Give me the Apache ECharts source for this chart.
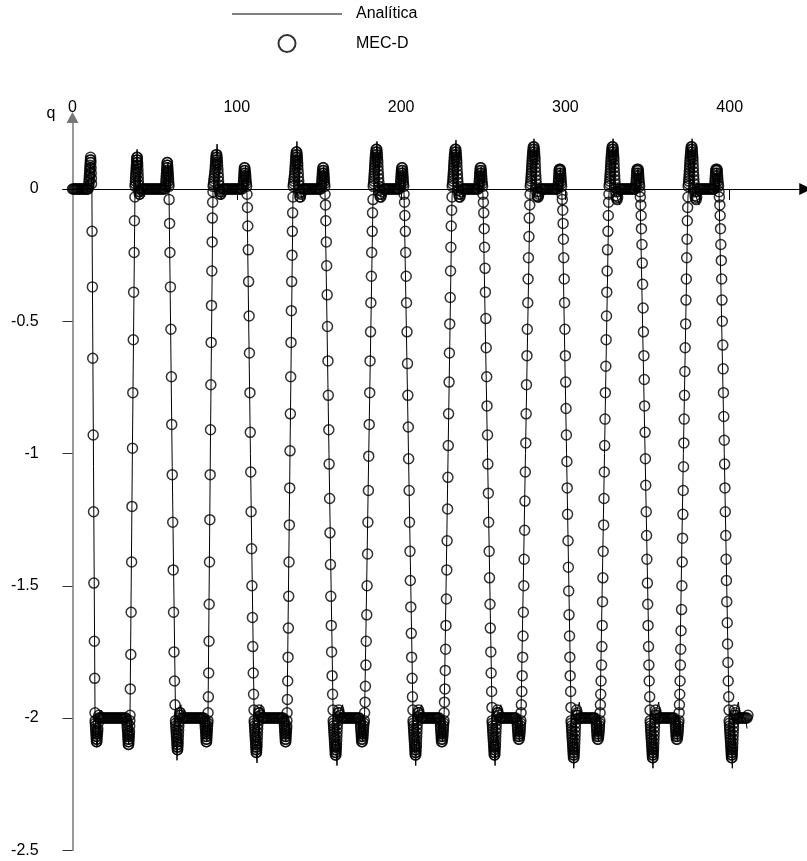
<!DOCTYPE html>
<html><head><meta charset="utf-8">
<script src="https://cdn.jsdelivr.net/npm/echarts@6/dist/echarts.min.js"></script>
<style>html,body{margin:0;padding:0;background:#fff}#c{width:807px;height:861px}</style>
</head><body><div id="c"></div>
<script>
const seriesNames=['Analítica','MEC-D'];
const xTickValues=[0,100,200,300,400];
const yTickValues=[-2.5,-2,-1.5,-1,-0.5,0];

// Analítica (x, q)
const anaA=[[0,0],[9.5,0],[10.8,0.10],[11.8,0.0],[12.8,-1.05],[13.7,-1.97],[14.3,-2.07],[14.9,-2.11],[15.5,-2.07],[16.4,-1.98],[17.4,-1.97],[18.4,-2],
[32.8,-2],[34.2,-2.1],[35.0,-1.99],[36.6,-0.9],[38.0,-0.03],[38.6,0.07],[39.3,0.15],[39.9,0.07],[40.8,-0.02],[41.6,-0.03],[42.6,0],
[56.6,0],[58.1,0.10],[58.8,-0.04],[60.7,-1.05],[62.7,-1.99],[63.2,-2.09],[63.6,-2.16],[64.1,-2.08],[65.2,-1.97],[66.0,-1.95],[67.0,-2],
[80.6,-2],[81.8,-2.09],[82.5,-1.98],[84.0,-0.93],[85.5,-0.01],[87.2,0.10],[88.0,0.17],[88.7,0.08],[89.7,-0.02],[90.6,-0.04],[91.6,0],
[103.8,0],[105.3,0.085],[106.2,-0.02],[108.3,-1.0],[110.5,-1.97],[111.5,-2.10],[112.3,-2.17],[113.0,-2.08],[114.0,-1.97],[115.0,-1.95],[116.0,-2],
[128.8,-2],[129.8,-2.09],[130.6,-1.98],[132.4,-0.99],[134.2,-0.03],[135.8,0.10],[136.6,0.18],[137.4,0.08],[138.6,-0.01],[140.0,-0.045],[141.0,0],
[151.5,0],[152.9,0.085],[153.7,-0.02],[156.1,-1.0],[158.6,-1.97],[160.2,-2.11],[161.0,-2.18],[161.7,-2.08],[162.6,-1.98],[164.4,-1.95],[165.4,-2],
[175.2,-2],[176.6,-2.09],[177.8,-1.98],[180.3,-1.0],[182.9,-0.04],[184.5,0.10],[185.3,0.18],[186.1,0.08],[187.2,-0.02],[188.8,-0.05],[189.8,0]];
const anaB=[[199.6,0],[201.0,0.085],[201.8,-0.02],[204.5,-1.0],[207.2,-1.97],[208.2,-2.10],[208.9,-2.18],[209.6,-2.08],[210.6,-1.98],[212.5,-1.95],[213.5,-2],
[223.8,-2],[225.2,-2.09],[226.2,-1.98],[228.6,-1.0],[231.0,-0.03],[232.6,0.10],[233.4,0.185],[234.2,0.08],[235.3,-0.02],[236.9,-0.05],[237.9,0],
[247.4,0],[248.7,0.085],[249.8,-0.02],[252.6,-1.0],[255.3,-1.96],[256.4,-2.10],[257.2,-2.18],[257.9,-2.08],[258.8,-1.98],[260.7,-1.95],[261.7,-2],
[270.6,-2],[272.0,-2.09],[273.0,-1.98],[275.7,-1.0],[278.5,-0.02],[280.1,0.10],[280.9,0.19],[281.7,0.08],[282.8,-0.02],[284.4,-0.05],[285.4,0],
[295.6,0],[296.9,0.08],[297.9,-0.02],[300.7,-1.0],[303.4,-1.96],[304.4,-2.10],[305.1,-2.19],[305.8,-2.08],[306.7,-1.98],[308.5,-1.94],[309.5,-2],
[318.7,-2],[320.1,-2.09],[321.1,-1.98],[323.8,-1.0],[326.5,-0.02],[328.2,0.10],[329.0,0.19],[329.8,0.08],[330.9,-0.02],[333.0,-0.06],[334.2,0],
[342.8,0],[344.2,0.08],[345.4,-0.01],[348.5,-1.0],[351.5,-1.97],[352.5,-2.10],[353.3,-2.19],[354.0,-2.08],[355.0,-1.98],[356.8,-1.94],[357.8,-2],
[366.8,-2],[368.2,-2.09],[369.2,-1.98],[371.8,-1.0],[374.6,-0.03],[376.3,0.10],[377.1,0.19],[377.9,0.08],[379.0,-0.02],[381.3,-0.06],[382.3,0],
[390.8,0],[392.2,0.08],[393.5,-0.01],[396.7,-1.0],[399.6,-1.97],[400.9,-2.11],[401.6,-2.19],[402.3,-2.08],[403.4,-1.98],[405.3,-1.94],[406.3,-2],[409.5,-2],[410.6,-2.04]];

// MEC-D (x, q), one array per transition (with its plateau)
const mecD1=[[0,0],[0.6,0],[1.2,0],[1.8,0],[2.4,0],[3.0,0],[3.6,0],[4.2,0],[4.8,0],[5.4,0],[6.0,0],[6.6,0],[7.2,0],[7.8,0],[8.4,0],[9.0,0],[9.5,0],
[9.9,.01],[10.0,.02],[10.1,.03],[10.2,.04],[10.3,.05],[10.4,.06],[10.5,.07],[10.6,.08],[10.7,.09],[10.8,.10],[10.9,.11],[11.0,.12],[11.1,.11],[11.2,.10],[11.3,.08],[11.4,.06],[11.5,.04],[11.6,.02],
[11.9,-0.16],[12.1,-0.37],[12.3,-0.64],[12.6,-0.93],[12.8,-1.22],[13.0,-1.49],[13.3,-1.71],[13.5,-1.85],[13.7,-1.98],
[13.8,-2.01],[13.9,-2.02],[14.0,-2.03],[14.1,-2.04],[14.2,-2.05],[14.3,-2.06],[14.4,-2.07],[14.5,-2.08],[14.6,-2.09],[14.8,-2.09],[14.9,-2.08],[15.0,-2.07],[15.2,-2.06],[15.3,-2.05],[15.4,-2.04],[15.6,-2.02],[15.8,-2.0],[16.0,-1.99],
[16.6,-2],[17.3,-2],[18.0,-2],[18.7,-2],[19.4,-2],[20.1,-2],[20.8,-2],[21.5,-2],[22.2,-2],[22.9,-2],[23.6,-2],[24.3,-2],[25.0,-2],[25.7,-2],[26.4,-2],[27.1,-2],[27.8,-2],[28.5,-2],[29.2,-2],[29.9,-2],[30.6,-2],[31.3,-2],[32.0,-2],[32.6,-2]];
const mecR1=[[33.1,-2.01],[33.2,-2.02],[33.3,-2.03],[33.4,-2.04],[33.5,-2.05],[33.6,-2.06],[33.7,-2.07],[33.8,-2.08],[33.9,-2.09],[34.0,-2.10],[34.2,-2.10],[34.3,-2.09],[34.4,-2.08],[34.5,-2.07],[34.6,-2.06],[34.7,-2.05],[34.8,-2.03],[34.9,-2.01],
[35.0,-1.99],[35.2,-1.89],[35.5,-1.76],[35.7,-1.60],[36.0,-1.41],[36.2,-1.20],[36.5,-0.98],[36.7,-0.77],[37.0,-0.57],[37.2,-0.39],[37.5,-0.24],[37.7,-0.12],[38.0,-0.03],
[38.1,.01],[38.2,.02],[38.3,.03],[38.4,.04],[38.5,.05],[38.6,.06],[38.7,.07],[38.8,.08],[38.9,.09],[39.0,.10],[39.1,.11],[39.2,.12],[39.4,.12],[39.5,.11],[39.6,.10],[39.7,.09],[39.8,.075],[39.9,.06],[40.0,.045],[40.1,.03],[40.2,.015],[40.3,0],[40.5,-.01],[40.7,-.02],[40.9,-.02],[41.1,-.01],
[41.7,0],[42.4,0],[43.1,0],[43.8,0],[44.5,0],[45.2,0],[45.9,0],[46.6,0],[47.3,0],[48.0,0],[48.7,0],[49.4,0],[50.1,0],[50.8,0],[51.5,0],[52.2,0],[52.9,0],[53.6,0],[54.3,0],[55.0,0],[55.7,0],[56.3,0]];
const mecD2=[[56.7,.01],[56.8,.02],[56.9,.03],[57.0,.04],[57.1,.05],[57.2,.06],[57.3,.07],[57.4,.08],[57.5,.09],[57.6,.10],[57.8,.10],[57.9,.09],[58.0,.08],[58.1,.07],[58.2,.06],[58.3,.05],[58.4,.04],[58.5,.03],[58.6,.02],[58.7,.01],
[58.8,-0.04],[59.1,-0.13],[59.3,-0.24],[59.6,-0.37],[59.9,-0.53],[60.2,-0.71],[60.4,-0.89],[60.7,-1.08],[61.0,-1.26],[61.3,-1.44],[61.5,-1.60],[61.8,-1.75],[62.1,-1.86],[62.4,-1.95],[62.7,-2.01],
[62.8,-2.02],[62.9,-2.03],[63.0,-2.04],[63.1,-2.05],[63.2,-2.06],[63.3,-2.07],[63.4,-2.08],[63.5,-2.09],[63.6,-2.10],[63.7,-2.11],[63.8,-2.12],[64.0,-2.12],[64.1,-2.11],[64.2,-2.10],[64.3,-2.09],[64.4,-2.075],[64.5,-2.06],[64.6,-2.045],[64.7,-2.03],[64.8,-2.015],[64.9,-2.0],[65.1,-1.99],[65.3,-1.98],[65.6,-1.98],[65.9,-1.99],
[66.6,-2],[67.3,-2],[68.0,-2],[68.7,-2],[69.4,-2],[70.1,-2],[70.8,-2],[71.5,-2],[72.2,-2],[72.9,-2],[73.6,-2],[74.3,-2],[75.0,-2],[75.7,-2],[76.4,-2],[77.1,-2],[77.8,-2],[78.5,-2],[79.2,-2],[79.9,-2]];
const mecR2=[[80.6,-2.01],[80.7,-2.02],[80.8,-2.03],[80.9,-2.04],[81.0,-2.05],[81.1,-2.06],[81.2,-2.07],[81.3,-2.08],[81.4,-2.09],[81.6,-2.09],[81.7,-2.08],[81.8,-2.07],[81.9,-2.06],[82.0,-2.05],[82.1,-2.04],[82.2,-2.03],[82.3,-2.02],[82.4,-2.01],
[82.5,-1.98],[82.7,-1.92],[82.9,-1.83],[83.1,-1.71],[83.2,-1.57],[83.4,-1.41],[83.6,-1.25],[83.8,-1.08],[84.0,-0.91],[84.2,-0.74],[84.4,-0.58],[84.6,-0.44],[84.8,-0.31],[85.0,-0.20],[85.1,-0.11],[85.3,-0.05],[85.5,-0.01],
[85.6,.01],[85.8,.02],[86.0,.03],[86.2,.04],[86.4,.05],[86.6,.06],[86.8,.07],[86.9,.08],[87.0,.09],[87.1,.10],[87.2,.11],[87.3,.12],[87.5,.13],[87.8,.13],[88.0,.12],[88.1,.11],[88.2,.10],[88.3,.09],[88.5,.075],[88.6,.06],[88.8,.045],[88.9,.03],[89.1,.015],[89.3,0],[89.6,-.01],[89.9,-.02],[90.3,-.02],[90.7,-.01],
[91.3,0],[92.0,0],[92.7,0],[93.4,0],[94.1,0],[94.8,0],[95.5,0],[96.2,0],[96.9,0],[97.6,0],[98.3,0],[99.0,0],[99.7,0],[100.4,0],[101.1,0],[101.8,0],[102.5,0],[103.2,0]];
const mecD3=[[103.9,.01],[104.0,.02],[104.1,.03],[104.2,.04],[104.3,.05],[104.4,.06],[104.5,.07],[104.6,.08],[104.9,.08],[105.1,.07],[105.3,.06],[105.4,.05],[105.5,.04],[105.6,.03],[105.8,.02],[106.0,.01],
[106.2,-0.02],[106.5,-0.07],[106.7,-0.14],[107.0,-0.23],[107.2,-0.35],[107.5,-0.48],[107.7,-0.62],[108.0,-0.77],[108.2,-0.92],[108.5,-1.07],[108.7,-1.22],[109.0,-1.36],[109.2,-1.50],[109.5,-1.62],[109.7,-1.73],[110.0,-1.83],[110.2,-1.91],[110.5,-1.97],
[110.6,-2.01],[110.7,-2.02],[110.8,-2.03],[110.9,-2.04],[111.0,-2.05],[111.1,-2.06],[111.2,-2.07],[111.3,-2.08],[111.4,-2.09],[111.5,-2.10],[111.6,-2.11],[111.7,-2.12],[111.8,-2.13],[112.0,-2.13],[112.1,-2.12],[112.2,-2.11],[112.3,-2.10],[112.4,-2.085],[112.5,-2.07],[112.6,-2.055],[112.7,-2.04],[112.8,-2.025],[112.9,-2.01],[113.1,-1.995],[113.3,-1.98],[113.6,-1.97],[113.9,-1.98],[114.3,-1.99],
[115.0,-2],[115.7,-2],[116.4,-2],[117.1,-2],[117.8,-2],[118.5,-2],[119.2,-2],[119.9,-2],[120.6,-2],[121.3,-2],[122.0,-2],[122.7,-2],[123.4,-2],[124.1,-2],[124.8,-2],[125.5,-2],[126.2,-2],[126.9,-2],[127.6,-2],[128.2,-2]];
const mecR3=[[128.8,-2.01],[128.9,-2.02],[129.0,-2.03],[129.1,-2.04],[129.2,-2.05],[129.3,-2.06],[129.4,-2.07],[129.5,-2.08],[129.6,-2.09],[129.8,-2.09],[129.9,-2.08],[130.0,-2.07],[130.1,-2.06],[130.2,-2.05],[130.3,-2.04],[130.4,-2.03],[130.5,-2.01],
[130.6,-1.98],[130.8,-1.93],[131.0,-1.86],[131.2,-1.77],[131.4,-1.66],[131.6,-1.54],[131.8,-1.41],[132.0,-1.27],[132.2,-1.13],[132.4,-0.99],[132.6,-0.85],[132.8,-0.71],[133.0,-0.58],[133.2,-0.46],[133.4,-0.35],[133.6,-0.25],[133.8,-0.16],[134.0,-0.09],[134.2,-0.03],
[134.3,.01],[134.5,.02],[134.7,.03],[134.9,.04],[135.1,.05],[135.3,.06],[135.4,.07],[135.5,.08],[135.6,.09],[135.7,.10],[135.8,.11],[135.9,.12],[136.0,.13],[136.2,.14],[136.5,.14],[136.7,.13],[136.8,.12],[136.9,.11],[137.0,.10],[137.1,.09],[137.2,.075],[137.4,.06],[137.5,.045],[137.7,.03],[137.8,.015],[138.0,0],[138.2,-.015],[138.4,-.03],[138.7,-.03],[139.0,-.02],[139.4,-.01],
[140.0,0],[140.7,0],[141.4,0],[142.1,0],[142.8,0],[143.5,0],[144.2,0],[144.9,0],[145.6,0],[146.3,0],[147.0,0],[147.7,0],[148.4,0],[149.1,0],[149.8,0],[150.5,0],[151.1,0]];
const mecD4=[[151.6,.01],[151.7,.02],[151.8,.03],[151.9,.04],[152.0,.05],[152.1,.06],[152.2,.07],[152.4,.08],[152.7,.08],[152.9,.07],[153.0,.06],[153.1,.05],[153.2,.04],[153.3,.03],[153.4,.02],[153.6,.01],
[153.7,-0.02],[154.0,-0.06],[154.2,-0.12],[154.5,-0.20],[154.7,-0.29],[155.0,-0.40],[155.2,-0.52],[155.5,-0.65],[155.7,-0.78],[156.0,-0.91],[156.2,-1.04],[156.5,-1.17],[156.7,-1.30],[157.0,-1.42],[157.2,-1.54],[157.5,-1.65],[157.7,-1.75],[158.0,-1.84],[158.3,-1.91],[158.6,-1.97],
[158.7,-2.01],[158.8,-2.02],[158.9,-2.03],[159.0,-2.04],[159.1,-2.05],[159.2,-2.06],[159.3,-2.07],[159.4,-2.08],[159.5,-2.09],[159.6,-2.10],[159.7,-2.11],[159.8,-2.12],[159.9,-2.13],[160.0,-2.14],[160.3,-2.14],[160.4,-2.13],[160.5,-2.12],[160.6,-2.11],[160.7,-2.10],[160.8,-2.085],[160.9,-2.07],[161.0,-2.055],[161.1,-2.04],[161.2,-2.025],[161.3,-2.01],[161.5,-1.995],[161.7,-1.98],[162.0,-1.97],[162.3,-1.98],[162.7,-1.99],
[163.4,-2],[164.1,-2],[164.8,-2],[165.5,-2],[166.2,-2],[166.9,-2],[167.6,-2],[168.3,-2],[169.0,-2],[169.7,-2],[170.4,-2],[171.1,-2],[171.8,-2],[172.5,-2],[173.2,-2],[173.9,-2],[174.6,-2]];
const mecR4=[[175.2,-2.01],[175.3,-2.02],[175.4,-2.03],[175.5,-2.04],[175.6,-2.05],[175.7,-2.06],[175.8,-2.07],[175.9,-2.08],[176.0,-2.09],[176.4,-2.09],[176.6,-2.08],[176.8,-2.07],[176.9,-2.06],[177.0,-2.05],[177.1,-2.04],[177.2,-2.03],[177.4,-2.02],[177.6,-2.01],
[177.8,-1.98],[178.1,-1.94],[178.3,-1.88],[178.6,-1.80],[178.8,-1.71],[179.1,-1.61],[179.3,-1.50],[179.6,-1.38],[179.8,-1.26],[180.1,-1.14],[180.3,-1.01],[180.6,-0.89],[180.9,-0.77],[181.1,-0.65],[181.4,-0.54],[181.6,-0.43],[181.9,-0.33],[182.1,-0.24],[182.4,-0.16],[182.6,-0.09],[182.9,-0.04],
[183.0,.01],[183.2,.02],[183.4,.03],[183.5,.04],[183.6,.05],[183.7,.06],[183.8,.07],[183.9,.08],[184.0,.09],[184.1,.10],[184.2,.11],[184.3,.12],[184.4,.13],[184.6,.14],[184.8,.15],[185.2,.15],[185.4,.14],[185.5,.13],[185.6,.12],[185.7,.11],[185.8,.10],[185.9,.085],[186.0,.07],[186.2,.055],[186.3,.04],[186.5,.025],[186.6,.01],[186.8,-.005],[187.0,-.02],[187.3,-.03],[187.7,-.03],[188.1,-.02],[188.5,-.01],
[189.1,0],[189.8,0],[190.5,0],[191.2,0],[191.9,0],[192.6,0],[193.3,0],[194.0,0],[194.7,0],[195.4,0],[196.1,0],[196.8,0],[197.5,0],[198.2,0],[198.9,0]];
const mecD5=[[199.6,.01],[199.7,.02],[199.8,.03],[199.9,.04],[200.0,.05],[200.1,.06],[200.2,.07],[200.4,.08],[200.7,.08],[200.9,.07],[201.0,.06],[201.1,.05],[201.2,.04],[201.3,.03],[201.4,.02],[201.6,.01],
[201.8,-0.02],[202.1,-0.05],[202.3,-0.10],[202.6,-0.16],[202.8,-0.24],[203.1,-0.33],[203.3,-0.43],[203.6,-0.54],[203.9,-0.66],[204.1,-0.78],[204.4,-0.90],[204.6,-1.02],[204.9,-1.14],[205.1,-1.26],[205.4,-1.37],[205.6,-1.48],[205.9,-1.58],[206.2,-1.68],[206.4,-1.77],[206.7,-1.85],[206.9,-1.92],[207.2,-1.97],
[207.3,-2.01],[207.4,-2.02],[207.5,-2.03],[207.6,-2.04],[207.7,-2.05],[207.8,-2.06],[207.9,-2.07],[208.0,-2.08],[208.1,-2.09],[208.2,-2.10],[208.3,-2.11],[208.4,-2.12],[208.5,-2.13],[208.6,-2.14],[208.9,-2.14],[209.0,-2.13],[209.1,-2.12],[209.2,-2.11],[209.3,-2.10],[209.4,-2.085],[209.5,-2.07],[209.6,-2.055],[209.7,-2.04],[209.8,-2.025],[209.9,-2.01],[210.1,-1.995],[210.3,-1.98],[210.6,-1.97],[210.9,-1.98],[211.3,-1.99],
[212.0,-2],[212.7,-2],[213.4,-2],[214.1,-2],[214.8,-2],[215.5,-2],[216.2,-2],[216.9,-2],[217.6,-2],[218.3,-2],[219.0,-2],[219.7,-2],[220.4,-2],[221.1,-2],[221.8,-2],[222.5,-2],[223.2,-2]];
const mecR5=[[223.8,-2.01],[223.9,-2.02],[224.0,-2.03],[224.1,-2.04],[224.2,-2.05],[224.3,-2.06],[224.4,-2.07],[224.5,-2.08],[224.6,-2.09],[225.0,-2.09],[225.2,-2.08],[225.4,-2.07],[225.5,-2.06],[225.6,-2.05],[225.7,-2.04],[225.8,-2.03],[225.9,-2.02],[226.1,-2.01],
[226.2,-1.98],[226.4,-1.94],[226.7,-1.89],[226.9,-1.82],[227.1,-1.74],[227.3,-1.65],[227.6,-1.55],[227.8,-1.44],[228.0,-1.33],[228.3,-1.21],[228.5,-1.09],[228.7,-0.97],[228.9,-0.85],[229.2,-0.73],[229.4,-0.62],[229.6,-0.51],[229.9,-0.41],[230.1,-0.31],[230.3,-0.22],[230.5,-0.14],[230.8,-0.08],[231.0,-0.03],
[231.1,.01],[231.3,.02],[231.5,.03],[231.6,.04],[231.7,.05],[231.8,.06],[231.9,.07],[232.0,.08],[232.1,.09],[232.2,.10],[232.3,.11],[232.4,.12],[232.5,.13],[232.7,.14],[232.9,.15],[233.3,.15],[233.5,.14],[233.6,.13],[233.7,.12],[233.8,.11],[233.9,.10],[234.0,.085],[234.1,.07],[234.3,.055],[234.4,.04],[234.6,.025],[234.7,.01],[234.9,-.005],[235.1,-.02],[235.4,-.03],[235.8,-.03],[236.2,-.02],[236.6,-.01],
[237.2,0],[237.9,0],[238.6,0],[239.3,0],[240.0,0],[240.7,0],[241.4,0],[242.1,0],[242.8,0],[243.5,0],[244.2,0],[244.9,0],[245.6,0],[246.3,0],[246.9,0]];
const mecD6=[[247.4,.01],[247.5,.02],[247.6,.03],[247.7,.04],[247.8,.05],[247.9,.06],[248.0,.07],[248.2,.08],[248.6,.08],[248.8,.07],[248.9,.06],[249.0,.05],[249.1,.04],[249.2,.03],[249.4,.02],[249.6,.01],
[249.8,-0.02],[250.1,-0.05],[250.3,-0.09],[250.6,-0.15],[250.8,-0.22],[251.1,-0.30],[251.3,-0.39],[251.6,-0.49],[251.8,-0.60],[252.1,-0.71],[252.3,-0.82],[252.6,-0.93],[252.8,-1.04],[253.1,-1.15],[253.3,-1.26],[253.6,-1.37],[253.8,-1.47],[254.1,-1.57],[254.3,-1.66],[254.6,-1.75],[254.8,-1.83],[255.1,-1.90],[255.3,-1.96],
[255.4,-2.01],[255.5,-2.02],[255.6,-2.03],[255.7,-2.04],[255.8,-2.05],[255.9,-2.06],[256.0,-2.07],[256.1,-2.08],[256.2,-2.09],[256.3,-2.10],[256.4,-2.11],[256.5,-2.12],[256.6,-2.13],[256.7,-2.14],[257.0,-2.14],[257.1,-2.13],[257.2,-2.12],[257.3,-2.11],[257.4,-2.10],[257.5,-2.085],[257.6,-2.07],[257.7,-2.055],[257.8,-2.04],[257.9,-2.025],[258.0,-2.01],[258.2,-1.995],[258.4,-1.98],[258.7,-1.97],[259.0,-1.98],[259.4,-1.99],
[260.1,-2],[260.8,-2],[261.5,-2],[262.2,-2],[262.9,-2],[263.6,-2],[264.3,-2],[265.0,-2],[265.7,-2],[266.4,-2],[267.1,-2],[267.8,-2],[268.5,-2],[269.2,-2],[269.9,-2]];
const mecR6=[[270.6,-2.01],[270.7,-2.02],[270.8,-2.03],[270.9,-2.04],[271.0,-2.05],[271.1,-2.06],[271.2,-2.07],[271.4,-2.08],[271.9,-2.08],[272.1,-2.07],[272.3,-2.06],[272.4,-2.05],[272.5,-2.04],[272.6,-2.03],[272.7,-2.02],[272.9,-2.01],
[273.0,-1.98],[273.2,-1.95],[273.5,-1.90],[273.7,-1.84],[274.0,-1.77],[274.2,-1.69],[274.4,-1.60],[274.7,-1.50],[274.9,-1.40],[275.2,-1.29],[275.4,-1.18],[275.6,-1.07],[275.9,-0.96],[276.1,-0.85],[276.3,-0.74],[276.6,-0.63],[276.8,-0.53],[277.1,-0.43],[277.3,-0.34],[277.5,-0.26],[277.8,-0.18],[278.0,-0.11],[278.3,-0.06],[278.5,-0.02],
[278.6,.01],[278.8,.02],[279.0,.03],[279.1,.04],[279.2,.05],[279.3,.06],[279.4,.07],[279.5,.08],[279.6,.09],[279.7,.10],[279.8,.11],[279.9,.12],[280.0,.13],[280.1,.14],[280.3,.15],[280.5,.16],[280.9,.16],[281.1,.15],[281.2,.14],[281.3,.13],[281.4,.12],[281.5,.11],[281.6,.095],[281.7,.08],[281.8,.065],[282.0,.05],[282.1,.035],[282.3,.02],[282.4,.005],[282.6,-.01],[282.8,-.025],[283.1,-.03],[283.5,-.03],[283.8,-.02],[284.2,-.01],
[284.8,0],[285.5,0],[286.2,0],[286.9,0],[287.6,0],[288.3,0],[289.0,0],[289.7,0],[290.4,0],[291.1,0],[291.8,0],[292.5,0],[293.2,0],[293.9,0],[294.6,0],[295.1,0]];
const mecD7=[[295.6,.01],[295.7,.02],[295.8,.03],[295.9,.04],[296.0,.05],[296.1,.06],[296.2,.07],[296.4,.075],[296.8,.075],[297.0,.07],[297.1,.06],[297.2,.05],[297.3,.04],[297.4,.03],[297.5,.02],[297.7,.01],
[297.9,-0.02],[298.1,-0.04],[298.4,-0.08],[298.6,-0.13],[298.8,-0.19],[299.0,-0.26],[299.3,-0.34],[299.5,-0.43],[299.7,-0.53],[300.0,-0.63],[300.2,-0.73],[300.4,-0.83],[300.6,-0.93],[300.9,-1.03],[301.1,-1.13],[301.3,-1.23],[301.6,-1.33],[301.8,-1.43],[302.0,-1.52],[302.2,-1.61],[302.5,-1.69],[302.7,-1.77],[302.9,-1.84],[303.2,-1.90],[303.4,-1.96],
[303.5,-2.01],[303.6,-2.02],[303.7,-2.03],[303.8,-2.04],[303.9,-2.05],[304.0,-2.06],[304.1,-2.07],[304.2,-2.08],[304.3,-2.09],[304.4,-2.10],[304.5,-2.11],[304.6,-2.12],[304.7,-2.13],[304.8,-2.14],[304.9,-2.15],[305.2,-2.15],[305.3,-2.14],[305.4,-2.13],[305.5,-2.12],[305.6,-2.11],[305.7,-2.095],[305.8,-2.08],[305.9,-2.065],[306.0,-2.05],[306.1,-2.035],[306.2,-2.02],[306.3,-2.005],[306.5,-1.99],[306.8,-1.97],[307.1,-1.98],[307.5,-1.99],
[308.2,-2],[308.9,-2],[309.6,-2],[310.3,-2],[311.0,-2],[311.7,-2],[312.4,-2],[313.1,-2],[313.8,-2],[314.5,-2],[315.2,-2],[315.9,-2],[316.6,-2],[317.3,-2],[318.0,-2]];
const mecR7=[[318.7,-2.01],[318.8,-2.02],[318.9,-2.03],[319.0,-2.04],[319.1,-2.05],[319.2,-2.06],[319.3,-2.07],[319.5,-2.08],[320.0,-2.08],[320.2,-2.07],[320.4,-2.06],[320.5,-2.05],[320.6,-2.04],[320.7,-2.03],[320.8,-2.02],[321.0,-2.01],
[321.1,-1.98],[321.3,-1.95],[321.5,-1.91],[321.7,-1.86],[322.0,-1.80],[322.2,-1.73],[322.4,-1.65],[322.6,-1.56],[322.8,-1.47],[323.0,-1.37],[323.3,-1.27],[323.5,-1.17],[323.7,-1.07],[323.9,-0.97],[324.1,-0.87],[324.3,-0.77],[324.6,-0.67],[324.8,-0.57],[325.0,-0.48],[325.2,-0.39],[325.4,-0.31],[325.6,-0.23],[325.9,-0.16],[326.1,-0.10],[326.3,-0.05],[326.5,-0.02],
[326.6,.01],[326.8,.02],[327.0,.03],[327.1,.04],[327.2,.05],[327.3,.06],[327.4,.07],[327.5,.08],[327.6,.09],[327.7,.10],[327.8,.11],[327.9,.12],[328.0,.13],[328.1,.14],[328.3,.15],[328.5,.16],[328.9,.16],[329.1,.15],[329.2,.14],[329.3,.13],[329.4,.12],[329.5,.11],[329.6,.095],[329.7,.08],[329.8,.065],[330.0,.05],[330.1,.035],[330.3,.02],[330.4,.005],[330.6,-.01],[330.8,-.025],[331.1,-.035],[331.5,-.04],[331.8,-.03],[332.2,-.01],
[332.8,0],[333.5,0],[334.2,0],[334.9,0],[335.6,0],[336.3,0],[337.0,0],[337.7,0],[338.4,0],[339.1,0],[339.8,0],[340.5,0],[341.2,0],[341.9,0],[342.4,0]];
const mecD8=[[342.9,.01],[343.0,.02],[343.1,.03],[343.2,.04],[343.3,.05],[343.4,.06],[343.5,.07],[343.7,.075],[344.2,.075],[344.4,.07],[344.5,.06],[344.6,.05],[344.7,.04],[344.8,.03],[345.0,.02],[345.2,.01],
[345.4,-0.01],[345.6,-0.03],[345.9,-0.06],[346.1,-0.10],[346.3,-0.15],[346.6,-0.21],[346.8,-0.28],[347.0,-0.36],[347.3,-0.45],[347.5,-0.54],[347.8,-0.63],[348.0,-0.72],[348.2,-0.82],[348.5,-0.92],[348.7,-1.02],[348.9,-1.12],[349.2,-1.22],[349.4,-1.31],[349.6,-1.40],[349.9,-1.49],[350.1,-1.57],[350.3,-1.65],[350.6,-1.73],[350.8,-1.80],[351.0,-1.86],[351.3,-1.92],[351.5,-1.97],
[351.6,-2.01],[351.7,-2.02],[351.8,-2.03],[351.9,-2.04],[352.0,-2.05],[352.1,-2.06],[352.2,-2.07],[352.3,-2.08],[352.4,-2.09],[352.5,-2.10],[352.6,-2.11],[352.7,-2.12],[352.8,-2.13],[352.9,-2.14],[353.0,-2.15],[353.3,-2.15],[353.4,-2.14],[353.5,-2.13],[353.6,-2.12],[353.7,-2.11],[353.8,-2.095],[353.9,-2.08],[354.0,-2.065],[354.1,-2.05],[354.2,-2.035],[354.3,-2.02],[354.4,-2.005],[354.6,-1.99],[354.9,-1.97],[355.2,-1.98],[355.6,-1.99],
[356.3,-2],[357.0,-2],[357.7,-2],[358.4,-2],[359.1,-2],[359.8,-2],[360.5,-2],[361.2,-2],[361.9,-2],[362.6,-2],[363.3,-2],[364.0,-2],[364.7,-2],[365.4,-2],[366.1,-2]];
const mecR8=[[366.8,-2.01],[366.9,-2.02],[367.0,-2.03],[367.1,-2.04],[367.2,-2.05],[367.3,-2.06],[367.4,-2.07],[367.6,-2.08],[368.1,-2.08],[368.3,-2.07],[368.5,-2.06],[368.6,-2.05],[368.7,-2.04],[368.8,-2.03],[368.9,-2.02],[369.1,-2.01],
[369.2,-1.98],[369.4,-1.95],[369.6,-1.91],[369.8,-1.86],[370.0,-1.80],[370.2,-1.74],[370.4,-1.67],[370.7,-1.59],[370.9,-1.50],[371.1,-1.41],[371.3,-1.32],[371.5,-1.23],[371.7,-1.14],[371.9,-1.05],[372.1,-0.96],[372.3,-0.87],[372.5,-0.78],[372.7,-0.69],[372.9,-0.60],[373.2,-0.51],[373.4,-0.42],[373.6,-0.34],[373.8,-0.26],[374.0,-0.19],[374.2,-0.12],[374.4,-0.07],[374.6,-0.03],
[374.7,.01],[374.9,.02],[375.1,.03],[375.2,.04],[375.3,.05],[375.4,.06],[375.5,.07],[375.6,.08],[375.7,.09],[375.8,.10],[375.9,.11],[376.0,.12],[376.1,.13],[376.2,.14],[376.4,.15],[376.6,.16],[377.0,.16],[377.2,.15],[377.3,.14],[377.4,.13],[377.5,.12],[377.6,.11],[377.7,.095],[377.8,.08],[377.9,.065],[378.1,.05],[378.2,.035],[378.4,.02],[378.5,.005],[378.7,-.01],[378.9,-.025],[379.2,-.035],[379.6,-.04],[379.9,-.03],[380.3,-.01],
[380.9,0],[381.6,0],[382.3,0],[383.0,0],[383.7,0],[384.4,0],[385.1,0],[385.8,0],[386.5,0],[387.2,0],[387.9,0],[388.6,0],[389.3,0],[390.0,0],[390.5,0]];
const mecD9=[[390.9,.01],[391.0,.02],[391.1,.03],[391.2,.04],[391.3,.05],[391.4,.06],[391.5,.07],[391.7,.075],[392.2,.075],[392.4,.07],[392.5,.06],[392.6,.05],[392.7,.04],[392.8,.03],[393.0,.02],[393.2,.01],
[393.5,-0.01],[393.7,-0.03],[394.0,-0.06],[394.2,-0.10],[394.4,-0.15],[394.6,-0.21],[394.9,-0.27],[395.1,-0.34],[395.3,-0.42],[395.5,-0.50],[395.8,-0.59],[396.0,-0.68],[396.2,-0.77],[396.4,-0.86],[396.7,-0.95],[396.9,-1.04],[397.1,-1.13],[397.3,-1.22],[397.6,-1.31],[397.8,-1.40],[398.0,-1.48],[398.2,-1.56],[398.5,-1.64],[398.7,-1.72],[398.9,-1.79],[399.1,-1.86],[399.4,-1.92],[399.6,-1.97],
[399.7,-2.01],[399.8,-2.02],[399.9,-2.03],[400.0,-2.04],[400.1,-2.05],[400.2,-2.06],[400.3,-2.07],[400.4,-2.08],[400.5,-2.09],[400.6,-2.10],[400.7,-2.11],[400.8,-2.12],[400.9,-2.13],[401.0,-2.14],[401.1,-2.15],[401.4,-2.15],[401.5,-2.14],[401.6,-2.13],[401.7,-2.12],[401.8,-2.11],[401.9,-2.095],[402.0,-2.08],[402.1,-2.065],[402.2,-2.05],[402.3,-2.035],[402.4,-2.02],[402.5,-2.005],[402.7,-1.99],[403.0,-1.97],[403.3,-1.98],[403.7,-1.99],
[404.4,-2],[405.1,-2],[405.8,-2],[406.5,-2],[407.2,-2],[407.9,-2],[408.6,-2],[409.3,-2],[410.0,-2],[410.6,-2],[411.1,-1.99]];

const FONT="'Liberation Sans', Arial, sans-serif";
const chart=echarts.init(document.getElementById('c'),null,{renderer:'canvas'});
chart.setOption({
  animation:false,
  backgroundColor:'#fff',
  textStyle:{fontFamily:FONT},
  legend:{
    data:[{name:seriesNames[0],icon:'path://M0,0H110V1H0Z'},{name:seriesNames[1]}],
    orient:'vertical', left:232, top:6, padding:0,
    itemWidth:110, itemHeight:17, itemGap:12,
    textStyle:{fontSize:16,color:'#000',fontFamily:FONT,padding:[0,0,0,9]}
  },
  grid:{left:62.64,right:1.72,top:117.6,bottom:10.75,containLabel:false},
  xAxis:[{
    type:'value',min:-6,max:446,position:'bottom',
    axisLine:{onZero:true,symbol:['none','triangle'],symbolSize:[12,12],lineStyle:{color:'#000',width:1}},
    axisTick:{show:true,inside:false,length:11,customValues:[100,200,300,400],lineStyle:{color:'#000',width:1}},
    axisLabel:{show:false},splitLine:{show:false}
  },{
    type:'value',min:-6,max:446,position:'top',
    axisLine:{show:false,onZero:false},axisTick:{show:false},
    axisLabel:{customValues:xTickValues,margin:2,fontSize:16,color:'#000',fontFamily:FONT},
    splitLine:{show:false}
  }],
  yAxis:{
    type:'value',min:-2.5,max:0.27,
    name:'q',nameLocation:'end',nameGap:3.6,
    nameTextStyle:{fontSize:16,color:'#000',fontFamily:FONT,align:'right',verticalAlign:'middle',padding:[0,17,0,0]},
    axisLine:{onZero:true,symbol:['none','triangle'],symbolSize:[12,11],lineStyle:{color:'#777',width:1.5}},
    axisTick:{show:true,inside:false,length:10,customValues:[-2.5,-2,-1.5,-1,-0.5],lineStyle:{color:'#333',width:1}},
    axisLabel:{customValues:yTickValues,margin:24,fontSize:16,color:'#000',fontFamily:FONT},
    splitLine:{show:false}
  },
  series:[{
    name:seriesNames[0],type:'line',xAxisIndex:0,yAxisIndex:0,
    data:anaA.concat(anaB),symbol:'none',showSymbol:false,
    lineStyle:{color:'#000',width:1},itemStyle:{color:'#000'},z:2
  },{
    name:seriesNames[1],type:'scatter',xAxisIndex:0,yAxisIndex:0,
    data:[].concat(mecD1,mecR1,mecD2,mecR2,mecD3,mecR3,mecD4,mecR4,mecD5,mecR5,mecD6,mecR6,mecD7,mecR7,mecD8,mecR8,mecD9),
    symbol:'circle',symbolSize:10,
    itemStyle:{color:'rgba(0,0,0,0)',borderColor:'#000',borderWidth:1.5},z:3
  }]
});
</script>
</body></html>
